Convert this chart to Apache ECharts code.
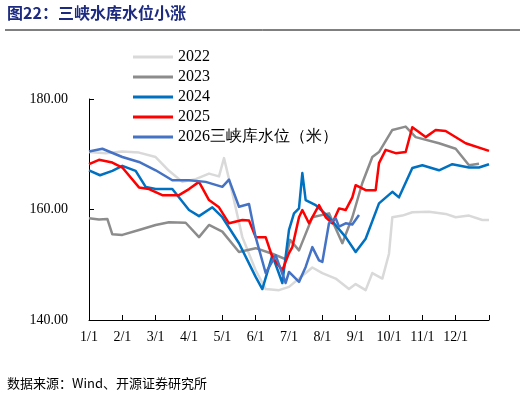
<!DOCTYPE html>
<html>
<head>
<meta charset="utf-8">
<script src="https://cdn.jsdelivr.net/npm/echarts@6/dist/echarts.min.js"></script>
<style>
  body { margin: 0; background: #fff; }
  #main { width: 522px; height: 405px; }
</style>
</head>
<body>
<div id="main"></div>
<script>
// x = months since 1/1 (0..12), y = water level (m)
var monthLabels = ['1/1', '2/1', '3/1', '4/1', '5/1', '6/1', '7/1', '8/1', '9/1', '10/1', '11/1', '12/1'];

var y2022 = [[0, 170.4], [0.5, 170.2], [1, 170.5], [1.5, 170.3], [2, 169.5], [2.4, 167], [2.8, 165], [3.2, 165.5], [3.6, 166.5], [3.9, 166], [4.05, 169.3], [4.3, 163], [4.6, 155], [5.0, 149], [5.3, 145.6], [5.7, 145.4], [6.0, 146], [6.3, 147.5], [6.7, 149.5], [7.0, 148.5], [7.4, 147.5], [7.8, 145.6], [8.0, 146.5], [8.3, 145.4], [8.5, 148.5], [8.8, 147.5], [9.0, 152], [9.1, 158.6], [9.4, 158.9], [9.7, 159.5], [10.2, 159.6], [10.7, 159.2], [11.0, 158.6], [11.4, 158.9], [11.8, 158.1], [12, 158.1]];
var y2023 = [[0, 158.4], [0.3, 158.2], [0.55, 158.3], [0.7, 155.5], [1.0, 155.4], [1.5, 156.3], [2.0, 157.2], [2.4, 157.7], [2.9, 157.6], [3.3, 155], [3.6, 157.2], [4.0, 156], [4.5, 152.3], [5.0, 153], [5.5, 152], [5.9, 151], [6.03, 154.5], [6.3, 152.6], [6.7, 158.6], [7.2, 159.3], [7.6, 153.9], [7.9, 158.6], [8.2, 164.8], [8.5, 169.5], [8.7, 170.4], [9.1, 174.4], [9.5, 175], [9.8, 173.1], [10.5, 172], [11.0, 171], [11.4, 168], [11.7, 168.3]];
var y2024 = [[0, 167.1], [0.33, 166.2], [0.7, 167], [1.0, 167.9], [1.4, 167], [1.7, 164.1], [2.0, 163.7], [2.5, 163.7], [3.0, 159.9], [3.3, 158.8], [3.7, 160.4], [4.0, 158.6], [4.5, 153.9], [5.0, 147.8], [5.2, 145.6], [5.5, 151.7], [5.8, 146.7], [6.0, 156.3], [6.15, 159.3], [6.3, 160.2], [6.4, 166.6], [6.5, 161.7], [6.8, 160.8], [7.2, 158.6], [7.7, 155], [8.0, 152.3], [8.3, 154.7], [8.7, 161.1], [9.1, 163.2], [9.3, 162.2], [9.7, 167.5], [10.0, 168], [10.5, 167.1], [10.9, 168.2], [11.4, 167.6], [11.7, 167.6], [12, 168.2]];
var y2025 = [[0, 168.2], [0.3, 169], [0.7, 168.5], [1.0, 167.6], [1.5, 164], [1.8, 163.7], [2.2, 162.6], [2.7, 162.6], [3.0, 163.7], [3.3, 165], [3.6, 161.7], [3.9, 160.4], [4.2, 157.5], [4.6, 158.1], [4.8, 158], [5.0, 155], [5.3, 155], [5.5, 151.4], [5.8, 149], [6.0, 152.1], [6.1, 153.2], [6.3, 158.6], [6.4, 159.9], [6.6, 157.5], [6.9, 160.8], [7.1, 158.6], [7.3, 157.5], [7.5, 160.2], [7.7, 159.9], [7.9, 162.2], [8.0, 164.4], [8.3, 163.5], [8.6, 163.5], [8.7, 168.4], [8.9, 170.8], [9.2, 170.2], [9.5, 170.4], [9.7, 174.9], [10.1, 173.1], [10.4, 174.4], [10.7, 174.2], [11.3, 172], [12, 170.6]];
var y2026 = [[0, 170.5], [0.4, 171], [1.0, 169.5], [1.5, 168.6], [2.0, 167.1], [2.5, 165.3], [3.0, 165.3], [3.5, 165], [4.0, 164.1], [4.2, 165.4], [4.5, 160.5], [4.8, 161], [5.0, 155], [5.3, 148.5], [5.6, 151.7], [5.9, 146.7], [6.0, 148.7], [6.3, 146.9], [6.5, 149.6], [6.7, 153.2], [6.9, 150.8], [7.0, 150.5], [7.2, 157.5], [7.4, 158.4], [7.5, 156.9], [7.7, 157.5], [7.9, 157.3], [8.1, 159]];

var names = ['2022', '2023', '2024', '2025', '2026三峡库水位（米）'];
var colors = ['#D9D9D9', '#8C8C8C', '#0070C0', '#FF0000', '#4472C4'];
var datas = [y2022, y2023, y2024, y2025, y2026];

var myChart = echarts.init(document.getElementById('main'));
var series = [];
for (var i = 0; i < names.length; i++) {
  series.push({
    name: names[i],
    type: 'line',
    data: datas[i],
    showSymbol: false,
    lineStyle: { width: 2.5, color: colors[i], join: 'round' },
    itemStyle: { color: colors[i] }
  });
}

var option = {
  animation: false,
  textStyle: { fontFamily: 'Liberation Serif' },
  graphic: [
    { type: 'text', left: 7, top: 5, style: { text: '图22：三峡水库水位小涨', font: 'bold 16px "Noto Sans CJK SC"', fill: '#1C2A80' } },
    { type: 'line', shape: { x1: 5, y1: 30, x2: 520, y2: 30 }, style: { stroke: '#000', lineWidth: 1 } },
    { type: 'text', left: 7, top: 377, style: { text: '数据来源：Wind、开源证券研究所', font: '13px "Noto Sans CJK SC"', fill: '#000' } }
  ],
  legend: {
    orient: 'vertical',
    left: 128,
    top: 44,
    itemGap: 4,
    itemWidth: 40,
    itemHeight: 3,
    icon: 'rect',
    textStyle: { fontSize: 16, color: '#000', fontFamily: 'Liberation Serif' },
    data: names
  },
  grid: { left: 89, right: 33, top: 99, bottom: 85 },
  xAxis: {
    type: 'value',
    min: 0,
    max: 12,
    interval: 1,
    splitLine: { show: false },
    axisLine: { lineStyle: { color: '#000' } },
    axisTick: { inside: true, length: 5, lineStyle: { color: '#000' } },
    axisLabel: {
      color: '#000', fontSize: 14, margin: 10,
      formatter: function (v) { return monthLabels[v] || ''; }
    }
  },
  yAxis: {
    type: 'value',
    min: 140,
    max: 180,
    interval: 20,
    splitLine: { show: false },
    axisLine: { show: true, lineStyle: { color: '#000' } },
    axisTick: { show: true, inside: true, length: 5, lineStyle: { color: '#000' } },
    axisLabel: {
      color: '#000', fontSize: 14, margin: 21,
      formatter: function (v) { return v.toFixed(2); }
    }
  },
  series: series
};
myChart.setOption(option);
</script>
</body>
</html>
